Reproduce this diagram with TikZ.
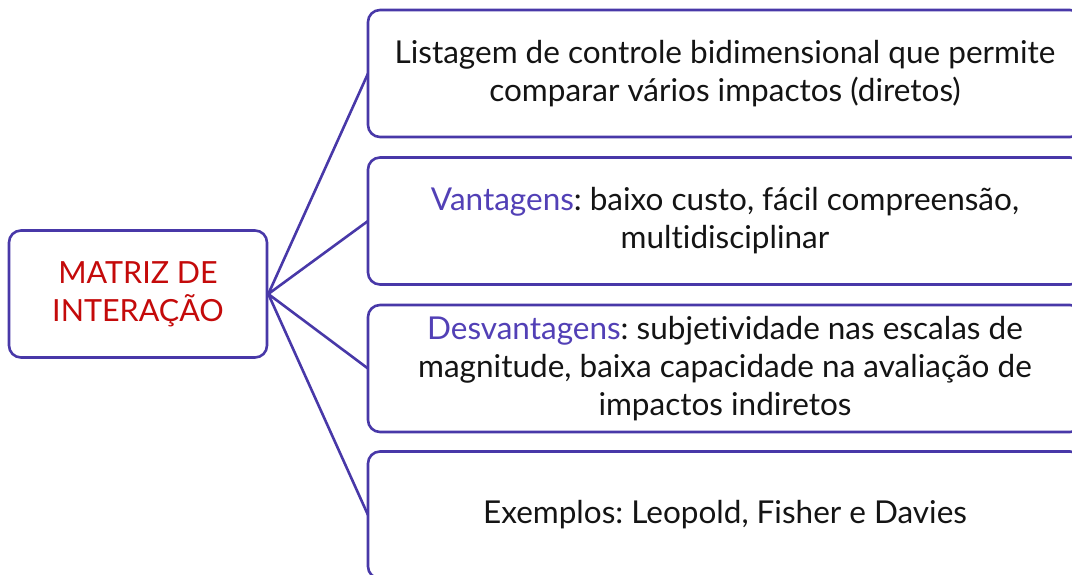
\documentclass[tikz,border=0pt]{standalone}
\usepackage{fontspec}
\setmainfont[Ligatures=NoCommon]{Lato}
\frenchspacing
\definecolor{bord}{RGB}{72,56,168}
\definecolor{accent}{RGB}{82,64,182}
\definecolor{redtxt}{RGB}{196,10,10}
\definecolor{bodytxt}{RGB}{20,20,20}
\begin{document}
\begin{tikzpicture}[x=1pt,y=-1pt,
  box/.style={draw=bord, line width=2.6pt, rounded corners=12pt, fill=white,
    minimum height=127pt, inner sep=0pt, align=center,
    font=\fontsize{31.5}{38}\selectfont, text=bodytxt},
  rbox/.style={box, minimum width=714pt},
  conn/.style={draw=bord, line width=2.6pt}]
\useasboundingbox (0,0) rectangle (1072,575);
\node[box, minimum width=258pt, text=redtxt, font=\fontsize{30.5}{38}\selectfont] (m) at (138,294) {MATRIZ DE\\INTERAÇÃO};
\draw[conn] (m.east) -- (368,73.5) coordinate (e1);
\draw[conn] (m.east) -- (368,221) coordinate (e2);
\draw[conn] (m.east) -- (368,368.5) coordinate (e3);
\draw[conn] (m.east) -- (368,515) coordinate (e4);
\node[rbox] (b1) at (725,73.5) {Listagem de controle bidimensional que permite\\comparar vários impactos (diretos)};
\node[rbox] (b2) at (725,221) {\textcolor{accent}{Vantagens}: baixo custo, fácil compreensão,\\multidisciplinar};
\node[rbox] (b3) at (725,368.5) {\textcolor{accent}{Desvantagens}: subjetividade nas escalas de\\magnitude, baixa capacidade na avaliação de\\impactos indiretos};
\node[rbox] (b4) at (725,515) {Exemplos: Leopold, Fisher e Davies};
\end{tikzpicture}
\end{document}
